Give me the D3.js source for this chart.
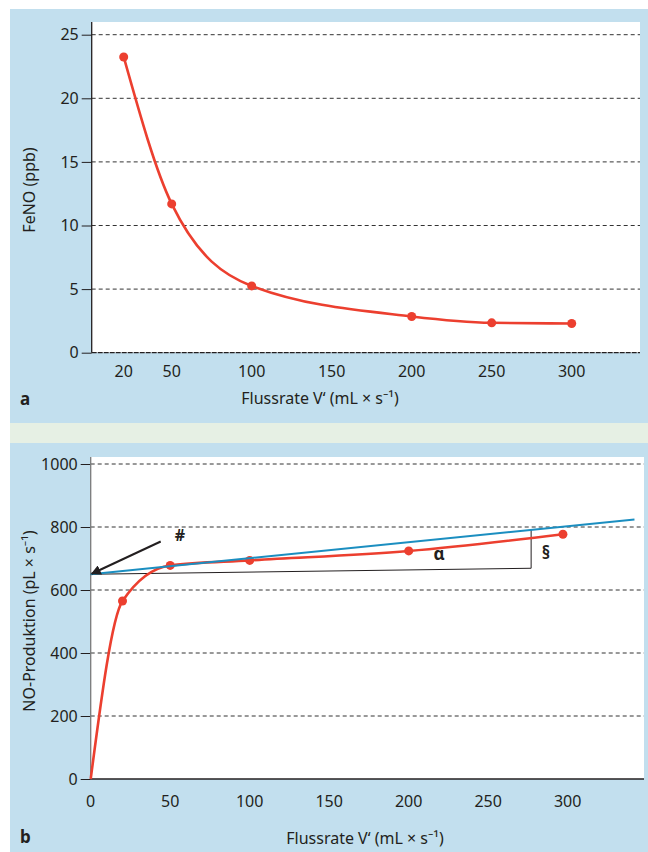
<!DOCTYPE html>
<html>
<head>
<meta charset="utf-8">
<script src="https://cdn.jsdelivr.net/npm/d3@7"></script>
<style>
  body { margin: 0; background: #fff; }
  svg text { font-family: "Noto Sans", "Open Sans", sans-serif; fill: #231f20; }
</style>
</head>
<body>
<div id="chart"></div>
<script>
// panel a: FeNO vs flow rate
const flowA = [20, 50, 100, 200, 250, 300];
const feno = [23.25, 11.7, 5.25, 2.85, 2.35, 2.3];
const xTicksA = [20, 50, 100, 150, 200, 250, 300];
const yTicksA = [0, 5, 10, 15, 20, 25];

// panel b: NO production vs flow rate
const flowB = [0, 20, 50, 100, 200, 297];
const noProd = [0, 565, 678, 694, 724, 777];
const xTicksB = [0, 50, 100, 150, 200, 250, 300];
const yTicksB = [0, 200, 400, 600, 800, 1000];
// tangent line (blue) and construction lines
const tangentX = [0, 342];
const tangentY = [650, 824];
const baseX = [0, 277];
const baseY = [650, 669];

const W = 648, H = 852;
const red = '#ec3f2f', blue = '#1b8ec0', panelBg = '#c2dfee';

const svg = d3.select('#chart').append('svg')
  .attr('width', W).attr('height', H);

svg.append('defs').append('marker')
  .attr('id', 'arrow')
  .attr('viewBox', '0 0 10 10')
  .attr('refX', 9).attr('refY', 5)
  .attr('markerWidth', 5).attr('markerHeight', 5)
  .attr('orient', 'auto')
  .append('path').attr('d', 'M0,0L10,5L0,10z').attr('fill', '#231f20');

// backgrounds
svg.append('rect').attr('x', 10).attr('y', 9).attr('width', W - 10).attr('height', 414).attr('fill', panelBg);
svg.append('rect').attr('x', 10).attr('y', 423).attr('width', W - 10).attr('height', 20).attr('fill', '#e6f0e4');
svg.append('rect').attr('x', 10).attr('y', 443).attr('width', W - 10).attr('height', H - 443).attr('fill', panelBg);

function drawPanel(o) {
  const g = svg.append('g');
  const x = d3.scaleLinear().domain(o.xDomain).range([o.left, o.right]);
  const y = d3.scaleLinear().domain(o.yDomain).range([o.bottom, o.yTopTick]);

  g.append('rect')
    .attr('x', o.left).attr('y', o.top)
    .attr('width', o.right - o.left).attr('height', o.bottom - o.top)
    .attr('fill', '#fff');

  // dashed grid
  g.selectAll('.grid').data(o.yTicks.filter(d => d > 0)).join('line')
    .attr('x1', o.left).attr('x2', o.right)
    .attr('y1', d => y(d)).attr('y2', d => y(d))
    .attr('stroke', '#333').attr('stroke-width', 1)
    .attr('stroke-dasharray', '4,3');

  // y axis with ticks on the left
  const yAxis = g.append('g')
    .attr('transform', `translate(${o.left},0)`)
    .call(d3.axisLeft(y).tickValues(o.yTicks).tickFormat(d3.format('d')).tickSize(10).tickPadding(3));
  yAxis.attr('font-size', 16).attr('font-family', null);
  yAxis.select('.domain').remove();
  yAxis.selectAll('.tick line').attr('stroke', '#231f20');
  yAxis.selectAll('.tick text').style('fill', '#231f20');

  g.append('line')
    .attr('x1', o.left).attr('x2', o.left)
    .attr('y1', o.top).attr('y2', o.bottom)
    .attr('stroke', o.yAxisColor).attr('stroke-width', 1.3);
  g.append('line')
    .attr('x1', o.left).attr('x2', o.right)
    .attr('y1', o.bottom).attr('y2', o.bottom)
    .attr('stroke', '#231f20').attr('stroke-width', 1.3)
    .attr('stroke-dasharray', o.zeroDash);

  // x tick labels, no tick marks
  g.selectAll('.xt').data(o.xTicks).join('text')
    .attr('x', d => x(d)).attr('y', o.xTickY)
    .attr('text-anchor', 'middle').attr('dominant-baseline', 'middle')
    .attr('font-size', 16).text(d => d);

  g.append('text')
    .attr('x', o.xLabelX).attr('y', o.xLabelY)
    .attr('text-anchor', 'middle').attr('dominant-baseline', 'middle')
    .attr('font-size', 16).text('Flussrate V‘ (mL × s⁻¹)');

  g.append('text')
    .attr('transform', `translate(31,${o.yLabelY}) rotate(-90)`)
    .attr('text-anchor', 'middle').attr('dominant-baseline', 'middle')
    .attr('font-size', 16).text(o.yLabel);

  g.append('text')
    .attr('x', 20).attr('y', o.letterY)
    .attr('dominant-baseline', 'middle')
    .attr('font-size', 17).attr('font-weight', 'bold').text(o.letter);

  return { g, x, y };
}

// ---- panel a ----
const A = drawPanel({
  left: 91.7, right: 640, top: 22, bottom: 352.7, yTopTick: 34.7,
  xDomain: [0, (640 - 91.7) / 1.6], yDomain: [0, 25],
  yTicks: yTicksA, xTicks: xTicksA, yAxisColor: '#231f20', zeroDash: '5,1',
  xTickY: 373, xLabelX: 320, xLabelY: 400,
  yLabel: 'FeNO (ppb)', yLabelY: 190, letter: 'a', letterY: 400
});
const dataA = flowA.map((f, i) => [f, feno[i]]);
A.g.append('path').datum(dataA)
  .attr('d', d3.line().x(d => A.x(d[0])).y(d => A.y(d[1])).curve(d3.curveMonotoneX))
  .attr('fill', 'none').attr('stroke', red).attr('stroke-width', 2.6);
A.g.selectAll('.pt').data(dataA).join('circle')
  .attr('cx', d => A.x(d[0])).attr('cy', d => A.y(d[1]))
  .attr('r', 4.5).attr('fill', red);

// ---- panel b ----
const B = drawPanel({
  left: 90.7, right: 644, top: 457, bottom: 779, yTopTick: 464,
  xDomain: [0, (644 - 90.7) / 1.59], yDomain: [0, 1000],
  yTicks: yTicksB, xTicks: xTicksB, yAxisColor: '#7a7a7a', zeroDash: null,
  xTickY: 803, xLabelX: 365, xLabelY: 840,
  yLabel: 'NO-Produktion (pL × s⁻¹)', yLabelY: 621, letter: 'b', letterY: 838
});

// thin construction lines (angle α and offset §)
B.g.append('path')
  .attr('d', d3.line()([
    [B.x(baseX[0]), B.y(baseY[0])],
    [B.x(baseX[1]), B.y(baseY[1])],
    [B.x(baseX[1]), B.y(tangentY[0] + (tangentY[1] - tangentY[0]) * baseX[1] / tangentX[1])]
  ]))
  .attr('fill', 'none').attr('stroke', '#231f20').attr('stroke-width', 1);

const dataB = flowB.map((f, i) => [f, noProd[i]]);
B.g.append('path').datum(dataB)
  .attr('d', d3.line().x(d => B.x(d[0])).y(d => B.y(d[1])).curve(d3.curveMonotoneX))
  .attr('fill', 'none').attr('stroke', red).attr('stroke-width', 2.6);
B.g.selectAll('.pt').data(dataB.slice(1)).join('circle')
  .attr('cx', d => B.x(d[0])).attr('cy', d => B.y(d[1]))
  .attr('r', 4.5).attr('fill', red);

B.g.append('line')
  .attr('x1', B.x(tangentX[0])).attr('y1', B.y(tangentY[0]))
  .attr('x2', B.x(tangentX[1])).attr('y2', B.y(tangentY[1]))
  .attr('stroke', blue).attr('stroke-width', 2);

// arrow to intercept
B.g.append('line')
  .attr('x1', 160.7).attr('y1', 541.5)
  .attr('x2', B.x(0) + 1).attr('y2', B.y(650) - 0.5)
  .attr('stroke', '#231f20').attr('stroke-width', 2)
  .attr('marker-end', 'url(#arrow)');

B.g.append('text').attr('x', 180).attr('y', 537)
  .attr('text-anchor', 'middle').attr('dominant-baseline', 'middle')
  .attr('font-size', 16).attr('font-weight', 'bold').text('#');
B.g.append('text').attr('x', 439).attr('y', 555)
  .attr('text-anchor', 'middle').attr('dominant-baseline', 'middle')
  .attr('font-size', 17).attr('font-weight', 'bold').text('α');
B.g.append('text').attr('x', 546).attr('y', 554)
  .attr('text-anchor', 'middle').attr('dominant-baseline', 'middle')
  .attr('font-size', 17).attr('font-weight', 'bold').text('§');
</script>
</body>
</html>
